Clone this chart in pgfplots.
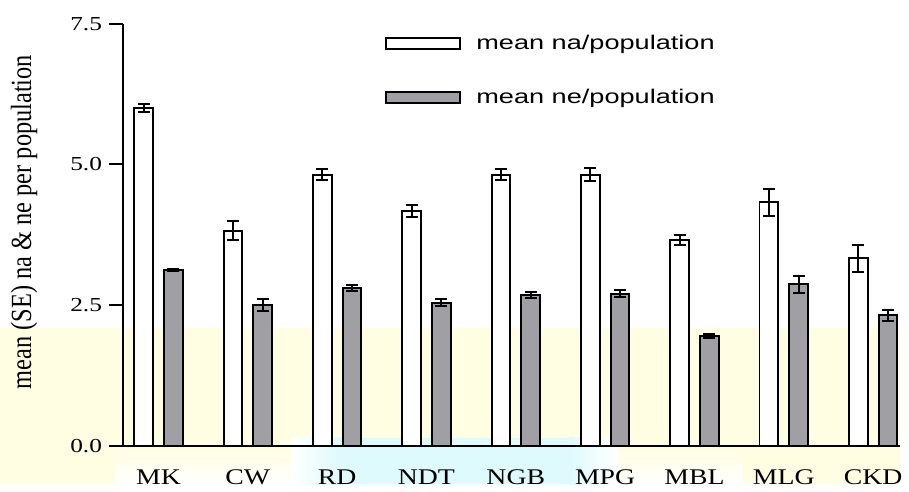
\documentclass[border=0pt]{standalone}
\usepackage{fontspec}
\setmainfont{Liberation Serif}
\newfontfamily\arialfont{Liberation Sans}
\usepackage{graphicx}
\usepackage{pgfplots}
\pgfplotsset{compat=1.18}
\definecolor{bargray}{RGB}{160,159,164}
\definecolor{wmyellow}{RGB}{255,254,226}
\definecolor{wmcyan}{RGB}{222,250,252}
\newcommand{\xlab}[1]{\scalebox{1.24}[1]{#1}}
\newcommand{\ylab}[1]{\scalebox{1.28}[1]{#1}}
\newcommand{\leglab}[1]{\scalebox{1.37}[1]{#1}}

\pgfplotstableread{
x  na    nae   ne    nee
0  6.00  0.07  3.12  0.02
1  3.82  0.17  2.50  0.10
2  4.82  0.09  2.80  0.05
3  4.17  0.10  2.54  0.06
4  4.82  0.10  2.68  0.05
5  4.82  0.11  2.70  0.06
6  3.66  0.09  1.95  0.04
7  4.33  0.24  2.87  0.15
8  3.33  0.24  2.32  0.10
}\datatable

\begin{document}
\begin{tikzpicture}
% pale background band of the reference
\fill[wmyellow] (-62pt,-19.5pt) rectangle (392.5pt,59.5pt);
\shade[top color=wmyellow, bottom color=white] (-4pt,-1pt) rectangle (313pt,-19.5pt);
\shade[left color=white, right color=wmcyan] (85pt,-19.5pt) rectangle (110pt,4pt);
\fill[wmcyan] (110pt,-19.5pt) rectangle (225pt,4pt);
\shade[left color=wmcyan, right color=white] (225pt,-19.5pt) rectangle (250pt,4pt);
\begin{axis}[
  at={(0,0)}, anchor=south west,
  scale only axis, width=392.5pt, height=213pt,
  xmin=-0.399, xmax=8.304, ymin=0, ymax=7.5,
  axis x line=bottom, axis y line=left,
  axis line style={-, line width=1pt, black},
  xtick={0,...,8},
  xticklabels={\xlab{MK},\xlab{CW},\xlab{RD},\xlab{NDT},\xlab{NGB},\xlab{MPG},\xlab{MBL},\xlab{MLG},\xlab{CKD}},
  x tick style={draw=none},
  xticklabel style={font=\fontsize{11.3}{13}\selectfont, anchor=base, yshift=-12.5pt},
  ytick={0,2.5,5,7.5},
  yticklabels={\ylab{0.0},\ylab{2.5},\ylab{5.0},\ylab{7.5}},
  y tick style={line width=1pt, black},
  tick align=outside, major tick length=7pt,
  yticklabel style={font=\fontsize{10}{12}\selectfont, anchor=east},
  ylabel={\scalebox{1}[1.2]{mean (SE) na \& ne per population}},
  ylabel style={font=\fontsize{12.3}{14}\selectfont, at={(axis description cs:-0.127,0.53)}, anchor=center},
  ybar, bar width=9.5pt,
  legend image code/.code={\draw[#1, line width=1pt] (0pt,-2.75pt) rectangle (37.5pt,2.75pt);},
  legend style={at={(axis description cs:0.337,0.975)}, anchor=north west, draw=none, fill=none,
    inner sep=0pt, row sep=18.5pt, font=\arialfont\fontsize{10}{12}\selectfont,
    nodes={inner sep=0pt}, /tikz/column sep=7.5pt},
  legend cell align=left,
  error bars/error bar style={line width=1pt, black},
  error bars/error mark options={rotate=90, mark size=3pt, line width=1pt, black},
]
\addplot[bar shift=-7.5pt, draw=black, fill=white, line width=1pt,
  error bars/.cd, y dir=both, y explicit]
  table[x=x, y=na, y error=nae] {\datatable};
\addlegendentry{\leglab{mean na/population}}
\addplot[bar shift=7.5pt, draw=black, fill=bargray, line width=1pt,
  error bars/.cd, y dir=both, y explicit]
  table[x=x, y=ne, y error=nee] {\datatable};
\addlegendentry{\leglab{mean ne/population}}
\end{axis}
\path[use as bounding box] (-62pt,-19.5pt) rectangle (392.5pt,225pt);
\end{tikzpicture}
\end{document}
